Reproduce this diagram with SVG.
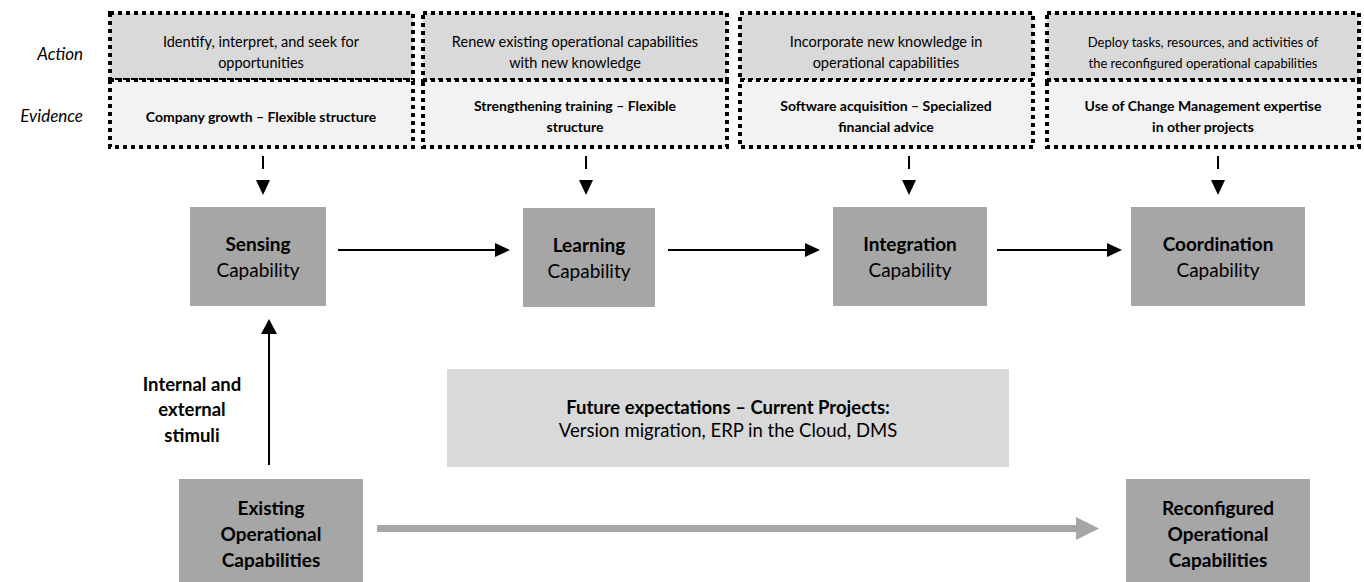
<svg xmlns="http://www.w3.org/2000/svg" width="1364" height="582" viewBox="0 0 1364 582">
  <style>
    text { font-family: "Lato", "Liberation Sans", sans-serif; fill: #000; text-anchor: middle; }
    .lbl { font-style: italic; font-size: 17px; text-anchor: end; }
    .act { fill: #d9d9d9; stroke: #000; stroke-width: 4; stroke-dasharray: 4 4; }
    .evi { fill: #f2f2f2; stroke: #000; stroke-width: 4; stroke-dasharray: 4 4; }
    .actt { font-size: 14.5px; }
    .evit { font-size: 14px; font-weight: bold; }
    .cap { fill: #a6a6a6; }
    .capb { font-size: 19px; font-weight: bold; }
    .capr { font-size: 19px; }
    .note { font-size: 18.5px; }
    .line { stroke: #000; stroke-width: 2; fill: none; }
    .head { fill: #000; }
  </style>

  <!-- row labels -->
  <text class="lbl" x="83" y="60">Action</text>
  <text class="lbl" x="83" y="122">Evidence</text>

  <!-- action / evidence panels -->
  <g id="panel-sensing">
    <rect class="act" x="110" y="13" width="303" height="67"/>
    <rect class="evi" x="110" y="80" width="303" height="67"/>
    <text class="actt" x="261" y="47">Identify, interpret, and seek for</text>
    <text class="actt" x="261" y="68">opportunities</text>
    <text class="evit" x="261" y="122">Company growth – Flexible structure</text>
  </g>
  <g id="panel-learning">
    <rect class="act" x="423" y="13" width="304" height="67"/>
    <rect class="evi" x="423" y="80" width="304" height="67"/>
    <text class="actt" x="575" y="47">Renew existing operational capabilities</text>
    <text class="actt" x="575" y="68">with new knowledge</text>
    <text class="evit" x="575" y="111">Strengthening training – Flexible</text>
    <text class="evit" x="575" y="132">structure</text>
  </g>
  <g id="panel-integration">
    <rect class="act" x="740" y="13" width="293" height="67"/>
    <rect class="evi" x="740" y="80" width="293" height="67"/>
    <text class="actt" x="886" y="47">Incorporate new knowledge in</text>
    <text class="actt" x="886" y="68">operational capabilities</text>
    <text class="evit" x="886" y="111">Software acquisition – Specialized</text>
    <text class="evit" x="886" y="132">financial advice</text>
  </g>
  <g id="panel-coordination">
    <rect class="act" x="1047" y="13" width="312" height="67"/>
    <rect class="evi" x="1047" y="80" width="312" height="67"/>
    <text class="actt" x="1203" y="47" style="font-size:13px">Deploy tasks, resources, and activities of</text>
    <text class="actt" x="1203" y="68" style="font-size:13px">the reconfigured operational capabilities</text>
    <text class="evit" x="1203" y="111">Use of Change Management expertise</text>
    <text class="evit" x="1203" y="132">in other projects</text>
  </g>

  <!-- capability nodes -->
  <g id="sensing">
    <rect class="cap" x="190" y="207" width="136" height="99"/>
    <text class="capb" x="258" y="251">Sensing</text>
    <text class="capr" x="258" y="277">Capability</text>
  </g>
  <g id="learning">
    <rect class="cap" x="523" y="208" width="132" height="99"/>
    <text class="capb" x="589" y="252">Learning</text>
    <text class="capr" x="589" y="278">Capability</text>
  </g>
  <g id="integration">
    <rect class="cap" x="833" y="207" width="154" height="99"/>
    <text class="capb" x="910" y="251">Integration</text>
    <text class="capr" x="910" y="277">Capability</text>
  </g>
  <g id="coordination">
    <rect class="cap" x="1131" y="207" width="174" height="99"/>
    <text class="capb" x="1218" y="251">Coordination</text>
    <text class="capr" x="1218" y="277">Capability</text>
  </g>

  <!-- operational capability nodes -->
  <g id="existing">
    <rect class="cap" x="179" y="479" width="184" height="110"/>
    <text class="capb" x="271" y="515">Existing</text>
    <text class="capb" x="271" y="541">Operational</text>
    <text class="capb" x="271" y="567">Capabilities</text>
  </g>
  <g id="reconfigured">
    <rect class="cap" x="1126" y="479" width="184" height="110"/>
    <text class="capb" x="1218" y="515">Reconfigured</text>
    <text class="capb" x="1218" y="541">Operational</text>
    <text class="capb" x="1218" y="567">Capabilities</text>
  </g>

  <!-- projects note -->
  <g id="future">
    <rect x="447" y="369" width="562" height="98" fill="#d9d9d9"/>
    <text class="note" x="728" y="414" style="font-weight:bold">Future expectations – Current Projects:</text>
    <text class="note" x="728" y="437">Version migration, ERP in the Cloud, DMS</text>
  </g>

  <!-- stimuli label -->
  <g id="stimuli">
    <text class="note" x="192" y="391" style="font-weight:bold">Internal and</text>
    <text class="note" x="192" y="416" style="font-weight:bold">external</text>
    <text class="note" x="192" y="442" style="font-weight:bold">stimuli</text>
  </g>

  <!-- connectors -->
  <g id="connectors">
    <!-- panel to capability -->
    <line class="line" x1="263" y1="156" x2="263" y2="169"/>
    <polygon class="head" points="256,180 270,180 263,195"/>
    <line class="line" x1="586" y1="156" x2="586" y2="169"/>
    <polygon class="head" points="579,180 593,180 586,195"/>
    <line class="line" x1="909" y1="156" x2="909" y2="169"/>
    <polygon class="head" points="902,180 916,180 909,195"/>
    <line class="line" x1="1218" y1="156" x2="1218" y2="169"/>
    <polygon class="head" points="1211,180 1225,180 1218,195"/>

    <!-- capability sequence -->
    <line class="line" x1="338" y1="250" x2="497" y2="250"/>
    <polygon class="head" points="495,243 510,250 495,257"/>
    <line class="line" x1="668" y1="250" x2="807" y2="250"/>
    <polygon class="head" points="805,243 820,250 805,257"/>
    <line class="line" x1="997" y1="250" x2="1109" y2="250"/>
    <polygon class="head" points="1107,243 1122,250 1107,257"/>

    <!-- stimuli arrow -->
    <line class="line" x1="269" y1="465" x2="269" y2="332"/>
    <polygon class="head" points="261,334 277,334 269,319"/>

    <!-- transformation arrow -->
    <rect x="377" y="525" width="700" height="7" fill="#a6a6a6"/>
    <polygon points="1076,517 1099,528.5 1076,540" fill="#a6a6a6"/>
  </g>
</svg>
